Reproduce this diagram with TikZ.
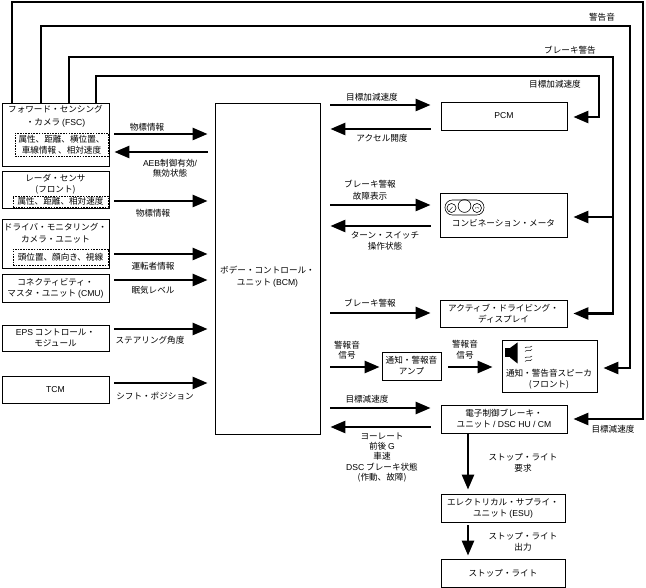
\documentclass[tikz,border=0pt]{standalone}
\usepackage{fontspec}
\setmainfont{Noto Sans CJK JP}
\newfontfamily\latf{Liberation Sans}
\newcommand\lat[1]{{\latf #1}}
\usetikzlibrary{arrows.meta}
\newcommand\fs{\fontsize{8.6}{11}\selectfont}
\begin{document}
\begin{tikzpicture}[x=1pt,y=-1pt,
  box/.style={draw, line width=0.8pt, inner sep=0pt, align=center, font=\fs},
  dbox/.style={draw, dash pattern=on 1.6pt off 1.1pt, line width=0.6pt, inner sep=0pt, align=center, font=\fs},
  arr/.style={line width=2.6pt, -{Triangle[length=15pt,width=12pt]}},
  wire/.style={line width=2.6pt},
  lbl/.style={align=center, inner sep=0pt, font=\fs}
]
\useasboundingbox (0,0) rectangle (646,588);

% ---------- left boxes ----------
\node[box, minimum width=107pt, minimum height=63pt] (fsc) at (55.5,134.5) {};
\node[lbl, font=\fontsize{8.6}{13}\selectfont] (fsct) at (55.5,116.5) {フォワード・センシング\\・カメラ \lat{(FSC)}};
\node[dbox, minimum width=93pt, minimum height=23pt] (fscd) at (61.5,144.5) {属性、距離、横位置、\\車線情報 、相対速度};

\node[box, minimum width=107pt, minimum height=37pt] (radar) at (55.5,189.5) {};
\node[lbl] (radart) at (55.5,184.5) {レーダ・センサ\\(フロント)};
\node[dbox, minimum width=95pt, minimum height=11pt] (radard) at (60.5,201.5) {属性、距離、相対速度};

\node[box, minimum width=107pt, minimum height=49pt] (dmc) at (55.5,243.5) {};
\node[lbl, font=\fontsize{8.6}{12}\selectfont] (dmct) at (55.5,233) {ドライバ・モニタリング・\\カメラ・ユニット};
\node[dbox, minimum width=95pt, minimum height=16pt] (dmcd) at (60.5,257) {頭位置、顔向き、視線};

\node[box, minimum width=107pt, minimum height=28pt] (cmu) at (55.5,288) {コネクティビティ・\\マスタ・ユニット \lat{(CMU)}};
\node[box, minimum width=107pt, minimum height=26pt] (eps) at (55.5,338) {\lat{EPS} コントロール・\\モジュール};
\node[box, minimum width=107pt, minimum height=27pt] (tcm) at (55.5,389.5) {\lat{TCM}};

% ---------- BCM ----------
\node[box, minimum width=105pt, minimum height=331pt] (bcm) at (267.5,268.5) {};
\node[lbl, font=\fontsize{8.6}{12.5}\selectfont] (bcmt) at (267.5,276.5) {ボデー・コントロール・\\ユニット \lat{(BCM)}};

% ---------- right boxes ----------
\node[box, minimum width=126pt, minimum height=28pt] (pcm) at (504,116) {\lat{PCM}};
\node[box, minimum width=127pt, minimum height=44pt] (meter) at (503.5,215) {};
\node[lbl] (metert) at (503.5,223) {コンビネーション・メータ};
\node[box, minimum width=127pt, minimum height=27pt] (add) at (503.5,313.5) {アクティブ・ドライビング・\\ディスプレイ};
\node[box, minimum width=59pt, minimum height=28pt] (amp) at (411.5,366) {通知・警報音\\アンプ};
\node[box, minimum width=95pt, minimum height=52pt] (spk) at (549.5,366) {};
\node[lbl] (spkt) at (549,379.5) {通知・警告音スピーカ\\(フロント)};
\node[box, minimum width=126pt, minimum height=28pt] (ebcm) at (504,419) {電子制御ブレーキ・\\ユニット \lat{/ DSC HU / CM}};
\node[box, minimum width=124pt, minimum height=28pt] (esu) at (503,508) {エレクトリカル・サプライ・\\ユニット \lat{(ESU)}};
\node[box, minimum width=124pt, minimum height=28pt] (stop) at (503,573) {ストップ・ライト};

% ---------- icons ----------
\begin{scope}[line width=0.6pt]
  \draw[rounded corners=7.4pt] (445,200) rectangle (484,215);
  \draw (451.5,208) circle (4.5pt);
  \draw (464.5,206) circle (6.4pt);
  \draw (477,208) circle (4.5pt);
  \draw[line width=0.4pt] (449.5,210.5) -- (452.5,207);
  \fill (475.5,208) circle (0.5pt) (477,207.5) circle (0.5pt) (478.5,208) circle (0.5pt);
\end{scope}
\fill (505,348) rectangle (510.5,357.5);
\fill (510,348) -- (517.5,342.5) -- (517.5,363.5) -- (510,357.5) -- cycle;
\begin{scope}[line width=0.5pt]
  \draw (525,348) .. controls (527,345.5) and (529,349) .. (532,346);
  \draw (525,351.5) .. controls (527,349) and (529,352.5) .. (532,349.5);
  \draw (525,358) .. controls (527,355.5) and (529,359) .. (532,356);
  \draw (525,361.5) .. controls (527,359) and (529,362.5) .. (532,359.5);
\end{scope}

% ---------- left arrows ----------
\draw[arr, shorten <=5pt, shorten >=7pt] (fsc.east |- 0,134) -- (bcm.west |- 0,134);
\draw[arr, shorten <=7pt, shorten >=5pt] (bcm.west |- 0,152) -- (fsc.east |- 0,152);
\draw[arr, shorten <=5pt, shorten >=7pt] (radar.east |- 0,201) -- (bcm.west |- 0,201);
\draw[arr, shorten <=5pt, shorten >=7pt] (dmc.east |- 0,254) -- (bcm.west |- 0,254);
\draw[arr, shorten <=5pt, shorten >=7pt] (cmu.east |- 0,280) -- (bcm.west |- 0,280);
\draw[arr, shorten <=5pt, shorten >=7pt] (eps.east |- 0,329) -- (bcm.west |- 0,329);
\draw[arr, shorten <=5pt, shorten >=7pt] (tcm.east |- 0,383) -- (bcm.west |- 0,383);

\node[lbl] at (147,127) {物標情報};
\node[lbl, font=\fontsize{8.6}{10.5}\selectfont] at (170,168) {\lat{AEB}制御有効\lat{/}\\無効状態};
\node[lbl] at (153,213) {物標情報};
\node[lbl] at (153,266) {運転者情報};
\node[lbl] at (153,290) {眠気レベル};
\node[lbl] at (150,340) {ステアリング角度};
\node[lbl] at (155,396) {シフト・ポジション};

% ---------- right arrows ----------
\draw[arr, shorten <=10pt, shorten >=10pt] (bcm.east |- 0,105) -- (pcm.west |- 0,105);
\draw[arr, shorten <=10pt, shorten >=10pt] (pcm.west |- 0,129) -- (bcm.east |- 0,129);
\draw[arr, shorten <=10pt, shorten >=9pt] (bcm.east |- 0,205) -- (meter.west |- 0,205);
\draw[arr, shorten <=9pt, shorten >=10pt] (meter.west |- 0,226) -- (bcm.east |- 0,226);
\draw[arr, shorten <=10pt, shorten >=9pt] (bcm.east |- 0,313) -- (add.west |- 0,313);
\draw[arr, shorten <=10pt, shorten >=2pt] (bcm.east |- 0,367) -- (amp.west |- 0,367);
\draw[arr, shorten <=7pt, shorten >=9pt] (amp.east |- 0,367) -- (spk.west |- 0,367);
\draw[arr, shorten <=10pt, shorten >=10pt] (bcm.east |- 0,408) -- (ebcm.west |- 0,408);
\draw[arr, shorten <=10pt, shorten >=10pt] (ebcm.west |- 0,427) -- (bcm.east |- 0,427);

\node[lbl] at (372,97) {目標加減速度};
\node[lbl] at (382,138) {アクセル開度};
\node[lbl, font=\fontsize{8.6}{12}\selectfont] at (370,190) {ブレーキ警報\\故障表示};
\node[lbl, font=\fontsize{8.6}{10.5}\selectfont] at (385,241) {ターン・スイッチ\\操作状態};
\node[lbl] at (370,303) {ブレーキ警報};
\node[lbl, font=\fontsize{8.6}{10.5}\selectfont] at (347,350) {警報音\\信号};
\node[lbl, font=\fontsize{8.6}{10.5}\selectfont] at (465,349.5) {警報音\\信号};
\node[lbl] at (367,399) {目標減速度};
\node[lbl, font=\fontsize{8.6}{10.3}\selectfont] at (382,457.5) {ヨーレート\\前後 \lat{G}\\車速\\\lat{DSC} ブレーキ状態\\(作動、故障)};

% ---------- down arrows ----------
\draw[arr, shorten <=1pt, shorten >=4pt] (ebcm.south -| 468,0) -- (esu.north -| 468,0);
\draw[arr, shorten <=3pt, shorten >=3pt] (esu.south -| 468,0) -- (stop.north -| 468,0);
\node[lbl] at (523,462.5) {ストップ・ライト\\要求};
\node[lbl] at (523,541.5) {ストップ・ライト\\出力};

% ---------- wires from FSC ----------
\coordinate (a1) at (12,2);   \coordinate (a2) at (643,2);
\coordinate (b1) at (41,26);  \coordinate (b2) at (630,26);
\coordinate (c1) at (69,57);  \coordinate (c2) at (613,57);
\coordinate (cj) at (613,217);
\coordinate (d1) at (96,76);  \coordinate (d2) at (599,76);

\draw[arr, shorten >=6pt] (fsc.north -| a1) -- (a1) -- (a2) |- (ebcm.east);
\draw[arr, shorten >=6pt] (fsc.north -| b1) -- (b1) -- (b2) |- (0,368 -| spk.east);
\draw[arr, shorten >=6pt] (fsc.north -| c1) -- (c1) -- (c2) |- (add.east);
\draw[arr, shorten >=6pt] (cj) -- (meter.east |- cj);
\draw[arr, shorten >=6pt] (fsc.north -| d1) -- (d1) -- (d2) |- (0,117 -| pcm.east);

\node[lbl] at (602,17) {警告音};
\node[lbl] at (570,50) {ブレーキ警告};
\node[lbl] at (555,84) {目標加減速度};
\node[lbl] at (613,429) {目標減速度};
\end{tikzpicture}
\end{document}
